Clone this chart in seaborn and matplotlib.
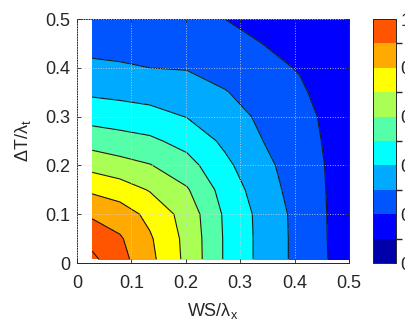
import numpy as np
import matplotlib
matplotlib.use("Agg")
import matplotlib.pyplot as plt
import seaborn as sns
from matplotlib.colors import ListedColormap, BoundaryNorm
import matplotlib.cm as cm

# ---- data ----
ws_grid = [0.028, 0.079, 0.134, 0.202, 0.272, 0.34, 0.41, 0.46, 0.5]          # WS/lambda_x
dt_grid = [0.008, 0.05, 0.1, 0.15, 0.2, 0.25, 0.3, 0.35, 0.4, 0.45, 0.5]     # dT/lambda_t

z_ws028 = [1.02, 0.968, 0.884, 0.783, 0.667, 0.559, 0.464, 0.384, 0.318, 0.272, 0.262]
z_ws079 = [0.935, 0.911, 0.849, 0.751, 0.636, 0.539, 0.451, 0.374, 0.31, 0.27, 0.255]
z_ws134 = [0.826, 0.812, 0.774, 0.693, 0.605, 0.519, 0.434, 0.3625, 0.3, 0.265, 0.245]
z_ws202 = [0.675, 0.672, 0.66, 0.61, 0.538, 0.465, 0.397, 0.344, 0.295, 0.258, 0.226]
z_ws272 = [0.489, 0.489, 0.485, 0.46, 0.422, 0.381, 0.343, 0.305, 0.264, 0.225, 0.2]
z_ws340 = [0.372, 0.372, 0.37, 0.35, 0.329, 0.302, 0.283, 0.259, 0.221, 0.2, 0.185]
z_ws410 = [0.268, 0.268, 0.266, 0.254, 0.247, 0.236, 0.226, 0.21, 0.195, 0.18, 0.17]
z_ws460 = [0.201, 0.2, 0.199, 0.197, 0.195, 0.19, 0.185, 0.175, 0.165, 0.16, 0.155]
z_ws500 = [0.17, 0.17, 0.168, 0.165, 0.16, 0.155, 0.15, 0.145, 0.14, 0.135, 0.13]

levels = [0.0, 0.1, 0.2, 0.3, 0.4, 0.5, 0.6, 0.7, 0.8, 0.9, 1.0]
x_ticks = [0, 0.1, 0.2, 0.3, 0.4, 0.5]
x_ticklabels = ["0", "0.1", "0.2", "0.3", "0.4", "0.5"]
y_ticks = [0, 0.1, 0.2, 0.3, 0.4, 0.5]
y_ticklabels = ["0", "0.1", "0.2", "0.3", "0.4", "0.5"]
cb_ticks = [0, 0.2, 0.4, 0.6, 0.8, 1.0]
cb_ticklabels = ["0", "0.2", "0.4", "0.6", "0.8", "1"]

# ---- style ----
sns.set_theme(style="white")
plt.rcParams["font.family"] = ["Liberation Sans", "DejaVu Sans"]
plt.rcParams["mathtext.default"] = "regular"
txt = "#262626"
fs = 13

jet10 = [(0, 0, 0.667), (0, 0, 1), (0, 0.333, 1), (0, 0.667, 1), (0, 1, 1),
         (0.333, 1, 0.667), (0.667, 1, 0.333), (1, 1, 0), (1, 0.667, 0), (1, 0.333, 0)]
cmap = ListedColormap(jet10)
cmap.set_over(jet10[-1])
norm = BoundaryNorm(levels, cmap.N)

Z = np.array([z_ws028, z_ws079, z_ws134, z_ws202, z_ws272,
              z_ws340, z_ws410, z_ws460, z_ws500]).T
X, Y = np.meshgrid(ws_grid, dt_grid)

fig = plt.figure(figsize=(4.06, 3.25), dpi=100)
ax = fig.add_axes([77 / 406, 62 / 325, 272 / 406, 244 / 325])
cax = fig.add_axes([373 / 406, 62 / 325, 23 / 406, 244 / 325])

ax.contourf(X, Y, Z, levels=levels, cmap=cmap, norm=norm, extend="max")
ax.contour(X, Y, Z, levels=levels[1:], colors="k", linewidths=0.8)

ax.set_xlim(0, 0.5)
ax.set_ylim(0, 0.5)
ax.set_xticks(x_ticks)
ax.set_xticklabels(x_ticklabels)
ax.set_yticks(y_ticks)
ax.set_yticklabels(y_ticklabels)
ax.tick_params(direction="in", length=3, width=0.6, colors=txt, labelsize=fs,
               top=True, right=True, bottom=True, left=True)
ax.tick_params(axis="x", pad=9)
ax.tick_params(axis="y", pad=5)
ax.grid(True, linestyle=":", color="#d8d8d8", alpha=0.8, linewidth=0.7)
ax.set_axisbelow(False)
for s in ax.spines.values():
    s.set_color(txt)
    s.set_linewidth(0.7)
    s.set_visible(True)

ax.set_xlabel("WS/λ$_x$", fontsize=fs, color=txt, labelpad=6)
ax.set_ylabel("ΔT/λ$_t$", fontsize=fs, color=txt, labelpad=9)

sm = cm.ScalarMappable(norm=norm, cmap=cmap)
cb = fig.colorbar(sm, cax=cax, boundaries=levels, ticks=cb_ticks)
cb.ax.set_yticklabels(cb_ticklabels)
cb.ax.tick_params(direction="in", length=3, width=0.6, colors=txt, labelsize=fs, pad=3)
cb.outline.set_edgecolor(txt)
cb.outline.set_linewidth(0.7)

fig.savefig("out.png", dpi=100)
